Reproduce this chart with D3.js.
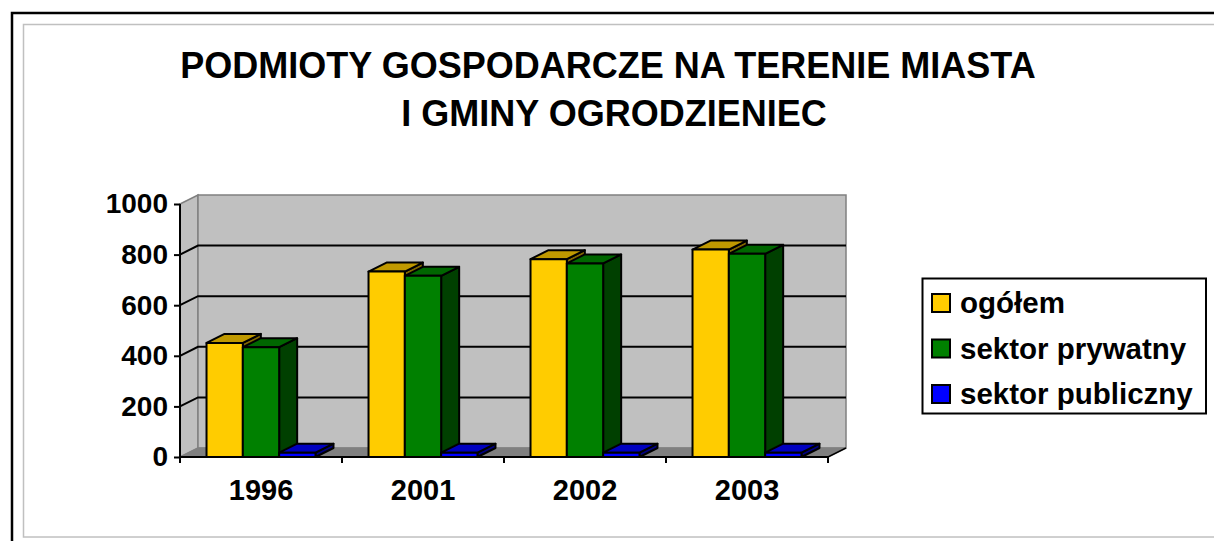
<!DOCTYPE html>
<html>
<head>
<meta charset="utf-8">
<script src="https://cdn.jsdelivr.net/npm/d3@7"></script>
<style>
  body { margin: 0; background: #fff; }
  svg { display: block; font-family: Arial, "Liberation Sans", sans-serif; font-weight: bold; }
</style>
</head>
<body>
<svg id="chart" width="1214" height="541"></svg>
<script>
// chart data
var years = ["1996", "2001", "2002", "2003"];
var seriesNames = ["ogółem", "sektor prywatny", "sektor publiczny"];
var ogolem = [451, 733, 782, 820];
var prywatny = [434, 716, 765, 803];
var publiczny = [17, 17, 17, 17];
var yTicks = [0, 200, 400, 600, 800, 1000];

var seriesValues = [ogolem, prywatny, publiczny];

// face colours for each series: front, top, side
var palette = [
  { front: "#ffcc00", top: "#c09900", side: "#806600" },
  { front: "#008000", top: "#006600", side: "#004000" },
  { front: "#0000ff", top: "#0000c0", side: "#000080" }
];

var svg = d3.select("#chart");

// frame
svg.append("rect")
  .attr("x", 12).attr("y", 13).attr("width", 1300).attr("height", 600)
  .attr("fill", "none").attr("stroke", "#000").attr("stroke-width", 2.5);
svg.append("rect")
  .attr("x", 23.5).attr("y", 24.5).attr("width", 1300).attr("height", 512.5)
  .attr("fill", "none").attr("stroke", "#c0c0c0").attr("stroke-width", 1.5);

// title
var title = svg.append("text")
  .attr("text-anchor", "middle")
  .attr("font-size", 36);
title.append("tspan").attr("x", 608).attr("y", 78).text("PODMIOTY GOSPODARCZE NA TERENIE MIASTA");
title.append("tspan").attr("x", 614).attr("y", 126).text("I GMINY OGRODZIENIEC");

// 3d plot geometry
var depthX = 18, depthY = -9;
var x0 = 180, x1 = 828;

var y = d3.scaleLinear()
  .domain([0, 1000])
  .range([457, 204]);

var x = d3.scaleBand()
  .domain(years)
  .range([x0, x1])
  .paddingInner(0)
  .paddingOuter(0);

var xs = d3.scaleBand()
  .domain(d3.range(seriesNames.length))
  .range([0, x.bandwidth()])
  .paddingOuter(0.73)
  .paddingInner(0);

function poly(points) {
  return "M" + points.map(p => p[0] + "," + p[1]).join("L") + "Z";
}

var wall = svg.append("g");
var yBase = y(0), yTop = y(1000);

// left side wall
wall.append("path")
  .attr("d", poly([[x0, yTop], [x0 + depthX, yTop + depthY], [x0 + depthX, yBase + depthY], [x0, yBase]]))
  .attr("fill", "#c0c0c0").attr("stroke", "#808080").attr("stroke-width", 1.5);
// back wall
wall.append("path")
  .attr("d", poly([[x0 + depthX, yTop + depthY], [x1 + depthX, yTop + depthY], [x1 + depthX, yBase + depthY], [x0 + depthX, yBase + depthY]]))
  .attr("fill", "#c0c0c0").attr("stroke", "#808080").attr("stroke-width", 1.5);
// floor
wall.append("path")
  .attr("d", poly([[x0, yBase], [x0 + depthX, yBase + depthY], [x1 + depthX, yBase + depthY], [x1, yBase]]))
  .attr("fill", "#808080").attr("stroke", "#808080").attr("stroke-width", 1);

// gridlines on side and back wall
var inner = yTicks.filter(t => t > 0 && t < 1000);
wall.selectAll(".grid")
  .data(inner)
  .enter().append("path")
  .attr("class", "grid")
  .attr("d", t => "M" + x0 + "," + y(t) + "L" + (x0 + depthX) + "," + (y(t) + depthY) + "L" + (x1 + depthX) + "," + (y(t) + depthY))
  .attr("fill", "none").attr("stroke", "#000").attr("stroke-width", 2);

// floor front right edge
wall.append("line")
  .attr("x1", x1).attr("y1", yBase).attr("x2", x1 + depthX).attr("y2", yBase + depthY)
  .attr("stroke", "#000").attr("stroke-width", 1.5);

// bars
var bars = svg.append("g");
years.forEach((yr, i) => {
  seriesValues.forEach((vals, s) => {
    var c = palette[s];
    var bx0 = x(yr) + xs(s), bx1 = bx0 + xs.bandwidth();
    var yt = y(vals[i]);
    var g = bars.append("g")
      .attr("stroke", "#000").attr("stroke-width", 2).attr("stroke-linejoin", "round");
    g.append("path")
      .attr("d", poly([[bx1, yt], [bx1 + depthX, yt + depthY], [bx1 + depthX, yBase + depthY], [bx1, yBase]]))
      .attr("fill", c.side);
    g.append("path")
      .attr("d", poly([[bx0, yt], [bx0 + depthX, yt + depthY], [bx1 + depthX, yt + depthY], [bx1, yt]]))
      .attr("fill", c.top);
    g.append("rect")
      .attr("x", bx0).attr("y", yt)
      .attr("width", bx1 - bx0).attr("height", yBase - yt)
      .attr("fill", c.front);
  });
});

// y axis
var yAxis = svg.append("g")
  .attr("transform", "translate(" + x0 + ",0)")
  .call(d3.axisLeft(y).tickValues(yTicks).tickSize(6).tickPadding(6).tickFormat(d3.format("d")));
yAxis.select(".domain").attr("stroke", "#000").attr("stroke-width", 2).attr("d", "M0," + yTop + "V" + yBase);
yAxis.selectAll(".tick line").attr("stroke", "#000").attr("stroke-width", 2);
yAxis.selectAll(".tick text")
  .attr("fill", "#000").attr("font-size", 28).attr("font-weight", "bold")
  .attr("font-family", "Arial, 'Liberation Sans', sans-serif");

// x axis
var xAxis = svg.append("g")
  .attr("transform", "translate(0," + yBase + ")")
  .call(d3.axisBottom(x).tickSize(0).tickPadding(22));
xAxis.select(".domain").attr("stroke", "#000").attr("stroke-width", 2).attr("d", "M" + x0 + ",0H" + x1);
xAxis.selectAll(".tick text")
  .attr("fill", "#000").attr("font-size", 29).attr("font-weight", "bold")
  .attr("font-family", "Arial, 'Liberation Sans', sans-serif");
xAxis.selectAll(".sep")
  .data(years.map(d => x(d)).concat([x1]))
  .enter().append("line")
  .attr("class", "sep")
  .attr("x1", d => d).attr("x2", d => d)
  .attr("y1", 0).attr("y2", 6)
  .attr("stroke", "#000").attr("stroke-width", 2);

// legend
var legend = svg.append("g");
legend.append("rect")
  .attr("x", 922.5).attr("y", 278.5).attr("width", 283.5).attr("height", 135)
  .attr("fill", "#fff").attr("stroke", "#000").attr("stroke-width", 2);
var rows = legend.selectAll(".row")
  .data(seriesNames)
  .enter().append("g")
  .attr("class", "row")
  .attr("transform", (d, i) => "translate(932," + (303 + i * 45.5) + ")");
rows.append("rect")
  .attr("x", 0).attr("y", -9).attr("width", 18).attr("height", 18)
  .attr("fill", (d, i) => palette[i].front)
  .attr("stroke", "#000").attr("stroke-width", 2);
rows.append("text")
  .attr("x", 28).attr("y", 10)
  .attr("font-size", 29.5)
  .text(d => d);
</script>
</body>
</html>
